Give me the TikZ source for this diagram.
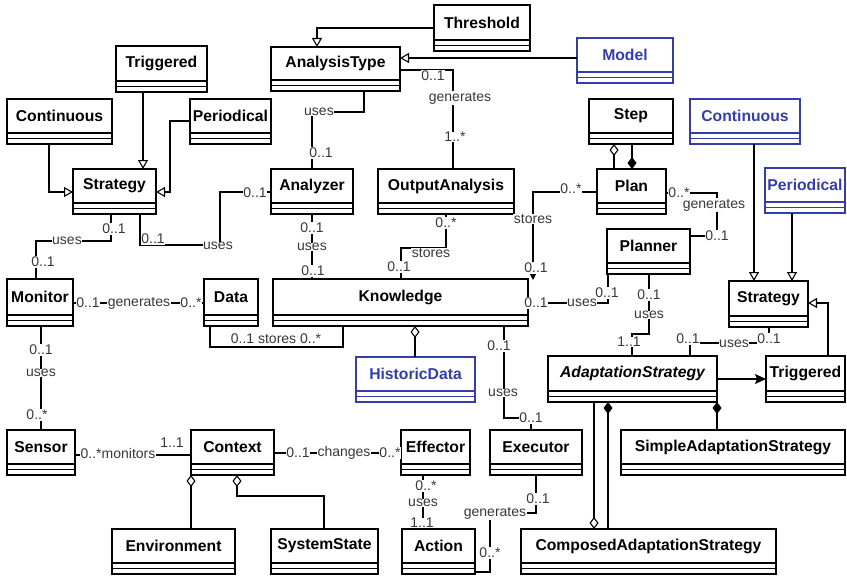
\documentclass[tikz,border=0pt]{standalone}
\usepackage{fontspec}
\setmainfont{Liberation Sans}
\usetikzlibrary{arrows.meta,calc}
\definecolor{umlblue}{RGB}{52,62,170}
\tikzset{
  clsbox/.style={draw, line width=1.2pt, fill=white, inner sep=0pt, outer sep=0pt},
  boxline/.style={line width=1.2pt},
  clsname/.style={font=\fontsize{15.7}{18}\selectfont\bfseries, inner sep=0pt},
  conn/.style={line width=1.1pt},
  gen/.style={conn, -{Triangle[open, length=9pt, width=10pt]}},
  lab/.style={font=\fontsize{14}{16}\selectfont, text=black!78, fill=white, inner sep=0.6pt},
  odia/.style={conn, {Diamond[open, length=12pt, width=9pt]}-},
  fdia/.style={conn, {Diamond[length=12pt, width=9pt]}-},
}
\newcommand\umlbox[7][black]{%
  \node[clsbox, draw=#1, minimum width={(#5-#3)*1pt}, minimum height={(#6-#4)*1pt}, anchor=north west] (#2) at (#3,#4) {};
  \draw[#1, boxline] ([yshift=11pt]#2.south west) -- ([yshift=11pt]#2.south east);
  \draw[#1, boxline] ([yshift=5.5pt]#2.south west) -- ([yshift=5.5pt]#2.south east);
  \node[clsname, text=#1] (#2-name) at ($(#2.north)!0.5!([yshift=11pt]#2.south)$) {#7};
}
\begin{document}
\begin{tikzpicture}[x=1pt, y=-1pt]
\useasboundingbox (0,0) rectangle (847,578);
% classes
\umlbox{TrigL}{116}{46}{207}{92}{Triggered}
\umlbox{ContL}{7}{99}{112}{144}{Continuous}
\umlbox{PerL}{190}{99}{271}{144}{Periodical}
\umlbox{StratL}{73}{169}{156}{214}{Strategy}
\umlbox{AType}{271}{47}{400}{91}{AnalysisType}
\umlbox{Thr}{434}{5}{530}{51}{Threshold}
\umlbox[umlblue]{Model}{577}{38}{673}{83}{Model}
\umlbox{Step}{589}{99}{673}{144}{Step}
\umlbox[umlblue]{ContR}{690}{99}{800}{144}{Continuous}
\umlbox[umlblue]{PerR}{765}{168}{845}{213}{Periodical}
\umlbox{Plan}{597}{169}{666}{214}{Plan}
\umlbox{Anlz}{271}{169}{353}{214}{Analyzer}
\umlbox{OutA}{378}{169}{514}{214}{OutputAnalysis}
\umlbox{Mon}{7}{279}{73}{326}{Monitor}
\umlbox{Data}{204}{279}{258}{326}{Data}
\umlbox{Know}{273}{279}{528}{326}{Knowledge}
\umlbox{Plnr}{607}{229}{690}{274}{Planner}
\umlbox{StratR}{729}{281}{808}{327}{Strategy}
\umlbox{AStr}{548}{356}{717}{402}{\itshape AdaptationStrategy}
\umlbox{TrigR}{766}{356}{845}{402}{Triggered}
\umlbox[umlblue]{Hist}{356}{357}{475}{402}{HistoricData}
\umlbox{Sens}{7}{430}{75}{475}{Sensor}
\umlbox{Ctx}{191}{430}{274}{475}{Context}
\umlbox{Env}{112}{529}{235}{574}{Environment}
\umlbox{SysS}{271}{529}{378}{574}{SystemState}
\umlbox{Eff}{401}{430}{470}{475}{Effector}
\umlbox{Exec}{490}{430}{582}{475}{Executor}
\umlbox{Act}{402}{529}{475}{574}{Action}
\umlbox{Simp}{621}{430}{845}{475}{SimpleAdaptationStrategy}
\umlbox{Comp}{521}{529}{776}{574}{ComposedAdaptationStrategy}
% generalizations
\draw[gen] (TrigL.south -| 143,0) -- (StratL.north -| 143,0);
\draw[gen] (ContL.south -| 49,0) |- (StratL.west |- 0,192);
\draw[gen] (PerL.west |- 0,121) -| (170,192) -- (StratL.east |- 0,192);
\draw[gen] (Thr.west |- 0,28) -| (AType.north -| 317,0);
\draw[gen] (Model.west |- 0,58) -- (AType.east |- 0,58);
\draw[gen] (ContR.south -| 754,0) -- (StratR.north -| 754,0);
\draw[gen] (PerR.south -| 792,0) -- (StratR.north -| 792,0);
\draw[gen] (TrigR.north -| 828,0) |- (StratR.east |- 0,303);
% associations
\coordinate (kcorner) at (533,280);
\draw[conn] (AType.south -| 364,0) |- (312,112) -- (Anlz.north -| 312,0);
\draw[conn] (AType.east |- 0,70) -| (OutA.north -| 453,0);
\draw[conn] (StratL.south -| 140,0) |- (220,245) |- (Anlz.west |- 0,192);
\draw[conn] (StratL.south -| 111,0) |- (36,241) -- (Mon.north -| 36,0);
\draw[conn] (Mon.east |- 0,303) -- (Data.west |- 0,303);
\draw[conn] (Data.south -| 210,0) |- (343,347) -- (Know.south -| 343,0);
\draw[conn] (Anlz.south -| 312,0) -- (Know.north -| 312,0);
\draw[conn] (OutA.south -| 446,0) |- (401,248) -- (Know.north -| 401,0);
\draw[conn, -{Triangle[length=8pt, width=8pt]}] (Plan.west |- 0,192) -| (kcorner);
\draw[conn] (Know.east |- 0,303) -| (Plnr.south -| 608,0);
\draw[conn] (Plan.east |- 0,193) -| (717,236) -- (Plnr.east |- 0,236);
\draw[conn] (Plnr.south -| 649,0) |- (632,334) -- (AStr.north -| 632,0);
\draw[conn] (AStr.north -| 690,0) |- (769,343) -- (StratR.south -| 769,0);
\draw[conn, -{Stealth[length=11pt, width=10pt, inset=2pt]}] (AStr.east |- 0,379) -- (TrigR.west |- 0,379);
\draw[odia] (Know.south -| 415,0) -- (Hist.north -| 415,0);
\draw[conn] (Know.south -| 504,0) |- (531,418) -- (Exec.north -| 531,0);
\draw[conn] (Mon.south -| 41,0) -- (Sens.north -| 41,0);
\draw[conn] (Sens.east |- 0,455) -- (Ctx.west |- 0,455);
\draw[conn] (Ctx.east |- 0,453) -- (Eff.west |- 0,453);
\draw[odia] (Ctx.south -| 191,0) -- (Env.north -| 191,0);
\draw[odia] (Ctx.south -| 237,0) |- (324,496) -- (SysS.north -| 324,0);
\draw[conn] (Eff.south -| 423,0) -- (Act.north -| 423,0);
\draw[conn] (Exec.south -| 536,0) |- (490,513) |- (Act.east |- 0,572);
\draw[fdia] (AStr.south -| 717,0) -- (Simp.north -| 717,0);
\draw[fdia] (AStr.south -| 608,0) -- (Comp.north -| 608,0);
\draw[odia] (Comp.north -| 594,0) -- (AStr.south -| 594,0);
\draw[odia] (Step.south -| 614,0) -- (Plan.north -| 614,0);
\draw[fdia] (Plan.north -| 632,0) -- (Step.south -| 632,0);
% labels
\node[lab] (L1) at (319,112) {uses};
\node[lab] (L2) at (321,153) {0..1};
\node[lab] (L3) at (433,76) {0..1};
\node[lab] (L4) at (460,98) {generates};
\node[lab] (L5) at (455,137) {1..*};
\node[lab] (L6) at (153,239) {0..1};
\node[lab] (L7) at (218,246) {uses};
\node[lab] (L8) at (255,193) {0..1};
\node[lab] (L9) at (114,229) {0..1};
\node[lab] (L10) at (67,241) {uses};
\node[lab] (L11) at (43,262) {0..1};
\node[lab] (L12) at (88,303) {0..1};
\node[lab] (L13) at (139,303) {generates};
\node[lab] (L14) at (191,303) {0..*};
\node[lab] (L15) at (276,339) {0..1 stores 0..*};
\node[lab] (L16) at (312,228) {0..1};
\node[lab] (L17) at (312,247) {uses};
\node[lab] (L18) at (313,271) {0..1};
\node[lab] (L19) at (446,223) {0..*};
\node[lab] (L20) at (431,253) {stores};
\node[lab] (L21) at (399,267) {0..1};
\node[lab] (L22) at (571,189) {0..*};
\node[lab] (L23) at (533,219) {stores};
\node[lab] (L24) at (536,268) {0..1};
\node[lab] (L25) at (536,303) {0..1};
\node[lab] (L26) at (582,303) {uses};
\node[lab] (L27) at (607,293) {0..1};
\node[lab] (L28) at (679,193) {0..*};
\node[lab] (L29) at (714,205) {generates};
\node[lab] (L30) at (717,236) {0..1};
\node[lab] (L31) at (649,295) {0..1};
\node[lab] (L32) at (649,315) {uses};
\node[lab] (L33) at (629,342) {1..1};
\node[lab] (L34) at (688,339) {0..1};
\node[lab] (L35) at (734,344) {uses};
\node[lab] (L36) at (769,339) {0..1};
\node[lab] (L37) at (499,346) {0..1};
\node[lab] (L38) at (503,393) {uses};
\node[lab] (L39) at (531,418) {0..1};
\node[lab] (L40) at (41,350) {0..1};
\node[lab] (L41) at (41,373) {uses};
\node[lab] (L42) at (37,415) {0..*};
\node[lab] (L43) at (118,453) {0..*monitors};
\node[lab] (L44) at (172,443) {1..1};
\node[lab] (L45) at (298,453) {0..1};
\node[lab] (L46) at (344,453) {changes};
\node[lab] (L47) at (390,453) {0..*};
\node[lab] (L48) at (426,486) {0..*};
\node[lab] (L49) at (423,503) {uses};
\node[lab] (L50) at (422,523) {1..1};
\node[lab] (L51) at (538,499) {0..1};
\node[lab] (L52) at (495,513) {generates};
\node[lab] (L53) at (490,553) {0..*};
\end{tikzpicture}
\end{document}
